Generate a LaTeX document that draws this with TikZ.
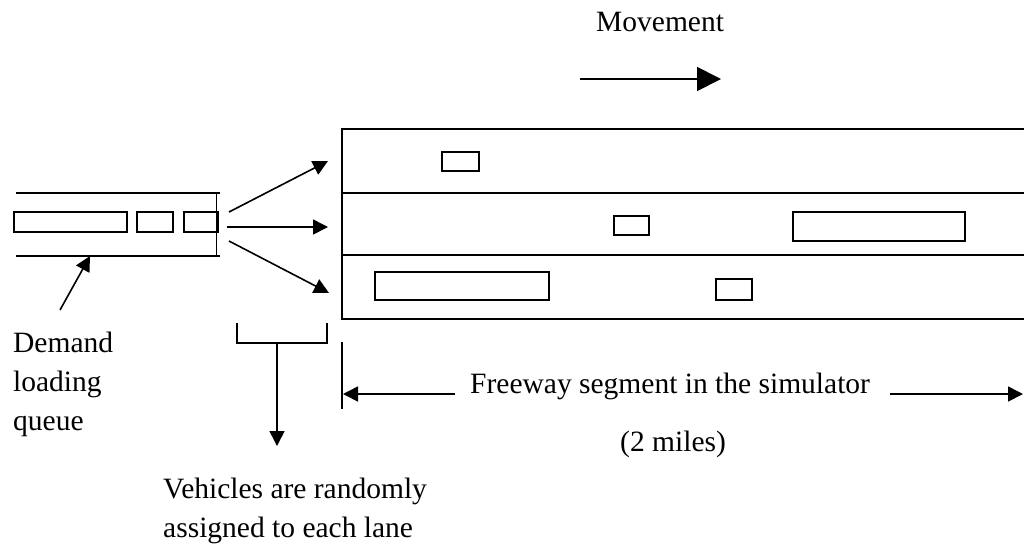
\documentclass[tikz,border=0pt]{standalone}
\usepackage{fontspec}
\setmainfont{Liberation Serif}
\usetikzlibrary{arrows.meta}
\begin{document}
\begin{tikzpicture}[x=1pt,y=-1pt,
  lbl/.style={anchor=base west,inner sep=0pt,font=\fontsize{29.5}{39}\selectfont},
  car/.style={draw,line width=1.9pt},
  ln/.style={line width=2pt},
  arr/.style={line width=1.6pt,-{Triangle[length=15pt,width=15pt]}},
  bigarr/.style={line width=1.8pt,-{Triangle[length=24pt,width=24pt]}}]
\useasboundingbox (0,0) rectangle (1024,550);
% texts
\node[lbl] (mov) at (596,31) {Movement};
\node[lbl] (dem1) at (13,352) {Demand};
\node[lbl] (dem2) at (13,391) {loading};
\node[lbl] (dem3) at (13,430) {queue};
\node[lbl] (veh1) at (163,498) {Vehicles are randomly};
\node[lbl] (veh2) at (163,537) {assigned to each lane};
\node[lbl] (fw) at (470,393) {Freeway segment in the simulator};
\node[lbl] (mi) at (620,451) {(2 miles)};
% movement arrow
\coordinate (mvA) at (580,79);
\coordinate (mvB) at (721,79);
\draw[bigarr] (mvA) -- (mvB);
% queue
\draw[ln] (16,192.5) -- (220,192.5);
\draw[ln] (16,256) -- (220,256);
\draw[line width=1.4pt] (216.7,192.5) -- (216.7,256);
\draw[car] (14,212) rectangle (127,232);
\draw[car] (137,212) rectangle (173,232);
\draw[car] (184,212) rectangle (218,232);
% freeway
\draw[ln] (1024,129) -- (342,129) -- (342,319) -- (1024,319);
\draw[ln] (342,192.5) -- (1024,192.5);
\draw[ln] (342,255) -- (1024,255);
\draw[car] (442,152) rectangle (479,171);
\draw[car] (614,216) rectangle (649,235);
\draw[car] (793,212) rectangle (965,241);
\draw[car] (375,272) rectangle (549,300);
\draw[car] (716,279) rectangle (752,300);
% assignment arrows
\coordinate (s1) at (229,212);
\coordinate (s2) at (227,227);
\coordinate (s3) at (229,241);
\coordinate (e1) at (328,161);
\coordinate (e2) at (328,227);
\coordinate (e3) at (329,293);
\draw[arr] (s1) -- (e1);
\draw[arr] (s2) -- (e2);
\draw[arr] (s3) -- (e3);
% demand arrow
\coordinate (dA) at (60,310);
\coordinate (dB) at (90,256);
\draw[arr] (dA) -- (dB);
% bracket
\coordinate (bL) at (237,323);
\coordinate (bR) at (327,323);
\coordinate (bM) at (277,343);
\coordinate (bE) at (277,446);
\draw[ln] (bL) -- (237,343) -- (327,343) -- (bR);
\draw[arr] (bM) -- (bE);
% dimension
\draw[ln] (342,342) -- (342,409);
\coordinate (dl1) at (455,394);
\coordinate (dl2) at (343,394);
\coordinate (dr1) at (890,394);
\coordinate (dr2) at (1023,394);
\draw[arr] (dl1) -- (dl2);
\draw[arr] (dr1) -- (dr2);
\end{tikzpicture}
\end{document}
